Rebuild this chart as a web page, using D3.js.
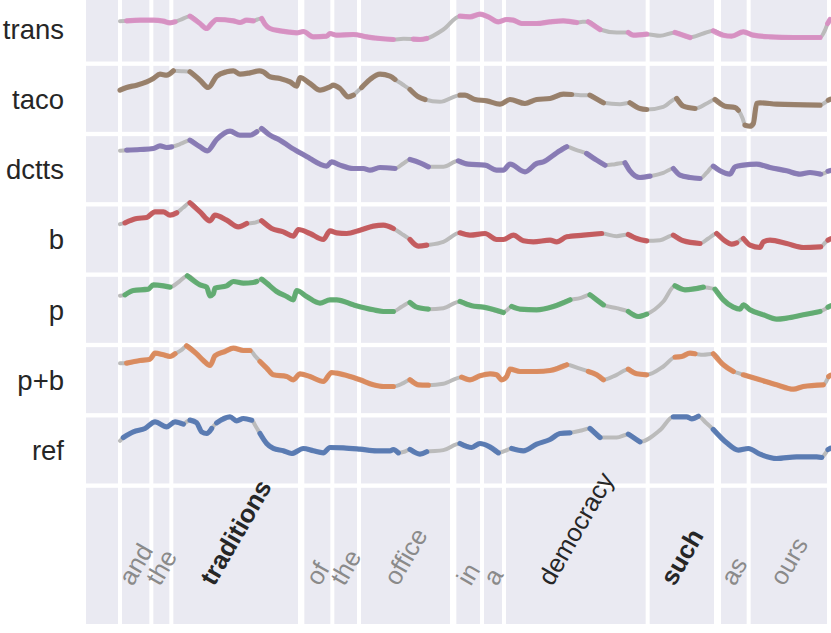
<!DOCTYPE html>
<html>
<head>
<meta charset="utf-8">
<script src="https://cdn.jsdelivr.net/npm/d3@7"></script>
<style>
  html, body { margin: 0; padding: 0; background: #ffffff; }
  svg { display: block; }
  text { font-family: "Liberation Sans", Arial, Helvetica, sans-serif; }
</style>
</head>
<body>
<svg id="chart" width="831" height="633"></svg>
<script>
// ---------------- DATA ----------------
// time in ms, pitch in Hz, v: 1 = voiced (coloured), 0 = interpolated (grey)
const rowLabels = ["trans", "taco", "dctts", "b", "p", "p+b", "ref"];
const rowColors = ["#DA8BC3", "#937860", "#8172B3", "#C44E52", "#55A868", "#DD8452", "#4C72B0"];

const words      = ["and", "the", "traditions", "of", "the", "office", "in", "a", "democracy", "such", "as", "ours"];
const wordStart  = [0, 94, 154, 547, 637, 717, 1003, 1086, 1152, 1583, 1797, 1886];
const wordEnd    = [94, 154, 540, 637, 717, 996, 1086, 1152, 1583, 1788, 1886, 2127];
const wordWeight = ["normal","normal","bold","normal","normal","normal","normal","normal","normal","bold","normal","normal"];
const wordTone   = ["light","light","dark","light","light","light","light","light","dark","dark","light","light"];

const trans = [[0,201,0],[20,202,1],[60,204,1],[100,204,1],[130,201,1],[150,196,1],[165,199,1],[188,208,0],[210,216,1],[240,194,1],[260,179,1],[275,194,1],[290,206,1],[340,202,1],[360,197,1],[380,204,1],[400,202,1],[412,206,0],[425,209,1],[435,192,1],[450,179,1],[480,172,1],[510,168,1],[530,166,1],[550,170,1],[580,154,1],[620,156,1],[630,164,1],[650,159,1],[700,161,1],[740,154,1],[780,149,1],[820,146,1],[850,148,0],[880,147,1],[900,146,1],[920,149,1],[970,176,0],[1020,216,1],[1050,214,1],[1080,222,1],[1105,214,1],[1135,199,1],[1160,206,1],[1180,204,1],[1205,194,1],[1250,194,1],[1290,199,1],[1330,202,1],[1370,197,1],[1388,199,0],[1405,199,1],[1440,176,1],[1490,167,0],[1525,167,1],[1540,159,1],[1580,162,1],[1620,157,0],[1665,167,1],[1710,152,1],[1750,164,0],[1780,172,1],[1810,159,1],[1835,156,1],[1870,169,1],[1900,159,1],[1950,154,1],[2020,152,1],[2100,152,1],[2115,174,0],[2123,194,1],[2130,206,1]];

const taco = [[0,205,1],[20,213,1],[50,220,1],[80,230,1],[100,240,1],[120,253,1],[140,250,1],[160,263,1],[185,262,0],[210,260,1],[240,235,1],[265,213,1],[290,247,1],[320,260,1],[340,263,1],[360,253,1],[390,257,1],[418,263,1],[430,260,1],[450,245,1],[480,240,1],[510,230,1],[530,217,1],[540,243,1],[570,225,1],[600,205,1],[630,215,1],[640,220,1],[660,210,1],[685,185,1],[700,190,1],[712,201,0],[725,213,1],[750,237,1],[780,253,1],[810,247,1],[825,237,1],[848,222,0],[870,207,1],[895,185,1],[915,177,1],[960,170,0],[1020,190,1],[1035,190,1],[1065,177,1],[1100,173,1],[1140,163,1],[1170,177,1],[1215,165,1],[1250,177,1],[1290,180,1],[1330,193,1],[1355,192,1],[1382,190,0],[1410,190,1],[1450,167,1],[1500,163,0],[1530,167,1],[1560,150,1],[1580,147,1],[1630,155,0],[1670,180,1],[1690,157,1],[1725,150,1],[1760,165,0],[1785,177,1],[1815,157,1],[1845,153,1],[1855,145,1],[1868,120,0],[1875,100,1],[1890,97,1],[1900,105,1],[1910,165,1],[1920,167,1],[1970,163,1],[2100,160,1],[2118,170,0],[2125,175,1],[2132,178,1]];

const dctts = [[0,234,0],[20,236,1],[60,238,1],[100,241,1],[120,249,1],[140,244,1],[155,246,1],[185,256,0],[210,266,1],[240,246,1],[262,234,1],[290,268,1],[330,293,1],[360,281,1],[390,281,1],[410,291,1],[418,296,0],[425,301,1],[450,281,1],[480,266,1],[510,246,1],[540,228,1],[570,211,1],[600,194,1],[620,188,1],[635,201,1],[660,191,1],[700,181,1],[730,181,1],[750,176,1],[780,184,1],[825,181,1],[850,196,0],[870,208,1],[900,198,1],[925,186,1],[970,186,0],[1015,204,1],[1045,194,1],[1095,191,1],[1130,176,1],[1150,176,1],[1170,194,1],[1215,171,1],[1250,196,1],[1270,201,1],[1310,228,1],[1340,246,1],[1370,236,0],[1400,226,1],[1430,206,1],[1455,191,1],[1485,194,0],[1515,198,1],[1530,174,1],[1560,154,1],[1590,158,1],[1630,168,0],[1660,181,1],[1680,161,1],[1710,154,1],[1740,151,1],[1760,168,0],[1780,188,1],[1800,174,1],[1830,164,1],[1845,186,1],[1870,191,1],[1910,194,1],[1950,184,1],[2000,174,1],[2040,164,1],[2070,169,1],[2102,164,1],[2116,168,0],[2124,173,1],[2132,175,1]];

const bOnly = [[0,225,0],[15,229,1],[50,242,1],[80,245,1],[105,262,1],[130,262,1],[150,252,1],[170,259,1],[190,275,0],[210,289,1],[240,262,1],[270,235,1],[285,252,1],[320,237,1],[355,217,1],[380,227,1],[402,229,0],[425,235,1],[455,212,1],[490,202,1],[520,189,1],[535,209,1],[570,197,1],[610,179,1],[630,205,1],[650,199,1],[680,197,1],[720,207,1],[760,219,1],[790,222,1],[820,212,1],[845,196,0],[870,179,1],[895,159,1],[920,162,1],[970,172,0],[1020,199,1],[1050,192,1],[1095,197,1],[1130,179,1],[1150,179,1],[1180,192,1],[1210,175,1],[1240,172,1],[1290,177,1],[1310,172,1],[1340,187,1],[1390,192,1],[1445,197,1],[1490,189,0],[1525,194,1],[1550,182,1],[1580,175,1],[1620,177,0],[1660,192,1],[1690,175,1],[1740,167,1],[1765,182,0],[1790,197,1],[1815,175,1],[1835,165,1],[1850,169,1],[1860,177,0],[1870,182,1],[1890,162,1],[1920,155,1],[1930,172,1],[1950,177,1],[2000,167,1],[2050,155,1],[2102,157,1],[2115,169,0],[2124,177,1],[2132,181,1]];

const pOnly = [[0,221,0],[15,224,1],[40,237,1],[85,241,1],[100,254,1],[130,251,1],[150,247,1],[178,264,0],[202,281,1],[240,254,1],[260,247,1],[270,221,1],[280,227,1],[285,244,1],[320,251,1],[340,264,1],[370,259,1],[400,261,1],[410,264,1],[418,269,0],[425,271,1],[440,259,1],[470,234,1],[500,219,1],[520,209,1],[525,224,1],[530,237,1],[560,219,1],[600,199,1],[630,209,1],[650,209,1],[700,194,1],[760,179,1],[790,174,1],[820,174,1],[845,188,0],[870,201,1],[890,187,1],[925,181,1],[970,184,0],[1020,204,1],[1055,191,1],[1090,187,1],[1150,171,1],[1162,179,0],[1175,189,1],[1200,181,1],[1250,179,1],[1300,189,1],[1350,209,1],[1380,214,0],[1410,224,1],[1430,209,1],[1450,194,1],[1490,184,0],[1525,174,1],[1555,159,1],[1580,166,1],[1630,204,0],[1665,251,1],[1695,239,1],[1750,247,1],[1770,244,0],[1785,241,1],[1810,209,1],[1840,187,1],[1860,181,1],[1870,194,1],[1890,179,1],[1930,164,1],[1970,151,1],[2000,154,1],[2050,164,1],[2100,174,1],[2115,181,0],[2124,187,1],[2132,191,1]];

const pPlusB = [[0,230,0],[20,230,1],[60,238,1],[90,242,1],[105,260,1],[130,255,1],[150,250,1],[165,258,1],[185,270,0],[200,282,1],[230,258,1],[250,238,1],[270,223,1],[285,252,1],[315,265,1],[340,275,1],[370,268,1],[390,268,1],[405,252,0],[420,235,1],[440,215,1],[460,195,1],[500,190,1],[520,180,1],[540,198,1],[570,190,1],[610,175,1],[635,202,1],[650,200,1],[690,190,1],[720,180,1],[760,165,1],[790,160,1],[820,160,1],[850,170,0],[870,180,1],[895,165,1],[925,164,1],[970,168,0],[1025,188,1],[1050,180,1],[1080,192,1],[1110,198,1],[1130,195,1],[1145,180,1],[1160,190,1],[1170,212,1],[1200,205,1],[1250,205,1],[1290,208,1],[1340,225,1],[1375,215,0],[1405,205,1],[1430,195,1],[1450,180,1],[1490,195,0],[1525,212,1],[1550,198,1],[1580,195,1],[1630,220,0],[1665,248,1],[1685,250,1],[1710,260,1],[1725,258,1],[1750,255,0],[1780,258,1],[1810,225,1],[1840,205,1],[1855,200,0],[1870,195,1],[1920,180,1],[1970,165,1],[2020,152,1],[2050,160,1],[2110,165,1],[2120,178,0],[2126,190,1],[2132,194,1]];

const ref = [[0,208,0],[10,218,1],[40,235,1],[75,245,1],[105,265,1],[140,250,1],[165,265,1],[190,258,1],[200,265,0],[210,270,1],[230,262,1],[245,235,1],[260,230,1],[275,245,1],[282,254,0],[290,262,1],[330,280,1],[350,268,1],[370,275,1],[395,270,1],[408,250,0],[420,230,1],[440,200,1],[460,185,1],[490,178,1],[515,170,1],[550,185,1],[580,178,1],[610,172,1],[630,188,1],[670,187,1],[720,183,1],[770,178,1],[810,178,1],[820,182,1],[835,172,1],[855,176,0],[870,182,1],[900,168,1],[920,175,1],[970,180,0],[1020,200,1],[1055,188,1],[1080,200,1],[1105,192,1],[1135,172,1],[1155,178,0],[1175,185,1],[1210,178,1],[1250,198,1],[1290,212,1],[1320,230,1],[1350,232,1],[1380,238,0],[1410,245,1],[1440,218,1],[1490,218,0],[1525,228,1],[1560,205,1],[1620,240,0],[1660,280,1],[1700,280,1],[1715,274,1],[1735,282,1],[1758,262,0],[1780,242,1],[1820,202,1],[1855,180,1],[1885,185,1],[1920,168,1],[1970,155,1],[2030,160,1],[2090,160,1],[2105,158,1],[2116,170,0],[2124,182,1],[2132,186,1]];

const rows = [trans, taco, dctts, bOnly, pOnly, pPlusB, ref];

// ---------------- LAYOUT ----------------
const W = 831, H = 633;
const plotLeft = 86;
const firstTop = -4.5, pitch = 70.33, panelH = 66;
const textTop = firstTop + pitch * rows.length; // ~487.8
const textBottom = 624;
const pitchDomain = [80, 278];

const svg = d3.select("#chart");
const x = d3.scaleLinear().domain([-102, 2133]).range([plotLeft, W]);

// panels
rows.forEach((_, i) => {
  const top = firstTop + pitch * i;
  svg.append("rect")
    .attr("x", plotLeft).attr("y", top)
    .attr("width", W - plotLeft + 20).attr("height", panelH)
    .attr("fill", "#EAEAF2");
});
svg.append("rect")
  .attr("x", plotLeft).attr("y", textTop)
  .attr("width", W - plotLeft + 20).attr("height", textBottom - textTop)
  .attr("fill", "#EAEAF2");

// word boundary grid lines
const bounds = Array.from(new Set(wordStart.concat(wordEnd)));
svg.append("g").selectAll("line").data(bounds).join("line")
  .attr("x1", d => x(d)).attr("x2", d => x(d))
  .attr("y1", -10).attr("y2", textBottom)
  .attr("stroke", "#ffffff").attr("stroke-width", 4);

// contours
rows.forEach((data, i) => {
  const top = firstTop + pitch * i;
  const y = d3.scaleLinear().domain(pitchDomain).range([top + panelH, top]);
  const g = svg.append("g");
  const full = d3.line().x(d => x(d[0])).y(d => y(d[1])).curve(d3.curveMonotoneX);
  const voiced = d3.line().defined(d => d[2] === 1).x(d => x(d[0])).y(d => y(d[1])).curve(d3.curveMonotoneX);
  g.append("path").attr("d", full(data))
    .attr("fill", "none").attr("stroke", "#BBBBBB")
    .attr("stroke-width", 4).attr("stroke-linecap", "round").attr("stroke-linejoin", "round");
  g.append("path").attr("d", voiced(data))
    .attr("fill", "none").attr("stroke", rowColors[i]).attr("stroke-opacity", 0.88)
    .attr("stroke-width", 5.2).attr("stroke-linecap", "round").attr("stroke-linejoin", "round");

  // row label
  svg.append("text")
    .attr("x", 64).attr("y", top + panelH / 2 + 10)
    .attr("text-anchor", "end")
    .attr("font-size", 27.5)
    .attr("fill", "#262626")
    .text(rowLabels[i]);
});

// word labels (rotated)
const fs = 25.5;
const baseY = 587;
words.forEach((w, i) => {
  const cx = x((wordStart[i] + wordEnd[i]) / 2);
  const t = svg.append("text")
    .attr("font-size", fs)
    .attr("font-weight", wordWeight[i])
    .attr("fill", wordTone[i] === "dark" ? "#262626" : "#8A8A8A")
    .attr("text-anchor", "start")
    .text(w);
  const L = t.node().getComputedTextLength();
  const sx = cx - 0.25 * L + 0.30 * fs;
  t.attr("x", sx).attr("y", baseY)
   .attr("transform", `rotate(-60, ${sx}, ${baseY})`);
});
</script>
</body>
</html>
